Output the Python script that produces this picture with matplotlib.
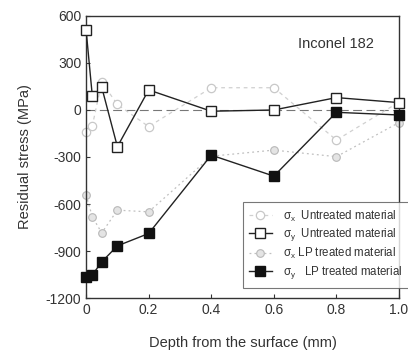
import matplotlib
matplotlib.use("Agg")
import matplotlib.pyplot as plt

plt.rcParams['font.family'] = ['Liberation Sans', 'DejaVu Sans']
plt.rcParams['mathtext.fontset'] = 'custom'
plt.rcParams['mathtext.rm'] = 'Liberation Sans'
plt.rcParams['mathtext.it'] = 'Liberation Sans'
plt.rcParams['axes.unicode_minus'] = False

depth = [0, 0.02, 0.05, 0.1, 0.2, 0.4, 0.6, 0.8, 1.0]
sx_untreated = [-138, -100, 178, 35, -106, 142, 142, -192, 50]
sy_untreated = [511, 87, 145, -234, 128, -8, 0, 79, 47]
sx_lp = [-543, -682, -784, -639, -650, -295, -256, -298, -80]
sy_lp = [-1067, -1052, -969, -867, -788, -288, -422, -15, -32]

labels = [r'$\sigma_x$  Untreated material', r'$\sigma_y$  Untreated material',
          r'$\sigma_x$ LP treated material', r'$\sigma_y$   LP treated material']

fig = plt.figure(figsize=(4.08, 3.54), dpi=100)
ax = fig.add_axes([0.211, 0.158, 0.767, 0.797])

ax.axhline(0, color='#777777', lw=0.8, dashes=(8, 4), zorder=1)

ax.plot(depth, sx_untreated, color='#d0d0d0', ls=(0, (3, 3)), lw=0.9,
        marker='o', ms=6, mfc='white', mec='#c8c8c8', mew=0.9, label=labels[0],
        zorder=2, clip_on=False)
ax.plot(depth, sy_untreated, color='#222222', lw=1.0,
        marker='s', ms=7, mfc='white', mec='#222222', mew=1.0, label=labels[1],
        zorder=4, clip_on=False)
ax.plot(depth, sx_lp, color='#c0c0c0', ls=(0, (1.5, 2.5)), lw=0.9,
        marker='o', ms=5.5, mfc='#e4e4e4', mec='#b8b8b8', mew=0.8, label=labels[2],
        zorder=2, clip_on=False)
ax.plot(depth, sy_lp, color='#222222', lw=1.0,
        marker='s', ms=7, mfc='#111111', mec='#111111', label=labels[3],
        zorder=4, clip_on=False)

ax.set_xlim(0, 1.0)
ax.set_ylim(-1200, 600)
ax.set_xticks([0, 0.2, 0.4, 0.6, 0.8, 1.0])
ax.set_xticklabels(['0', '0.2', '0.4', '0.6', '0.8', '1.0'])
ax.set_yticks([-1200, -900, -600, -300, 0, 300, 600])
ax.tick_params(direction='in', length=3, labelsize=10, colors='#333333', width=0.8)
for s in ax.spines.values():
    s.set_color('#333333')
    s.set_linewidth(1.0)

ax.set_xlabel('Depth from the surface (mm)', fontsize=10.5, color='#333333', labelpad=14)
ax.set_ylabel('Residual stress (MPa)', fontsize=10.5, color='#333333', labelpad=10)

ax.text(0.80, 0.90, 'Inconel 182', transform=ax.transAxes, fontsize=10.5,
        color='#333333', ha='center', va='center')

leg = ax.legend(loc='upper left', bbox_to_anchor=(0.50, 0.34), fontsize=8.3,
                frameon=True, fancybox=False, edgecolor='#555555', borderaxespad=0,
                handlelength=2.0, labelspacing=0.25, borderpad=0.55, handletextpad=1.0)
leg.get_frame().set_linewidth(0.8)
leg.set_zorder(10)
for t in leg.get_texts():
    t.set_color('#333333')

fig.savefig('out.png', dpi=100)
